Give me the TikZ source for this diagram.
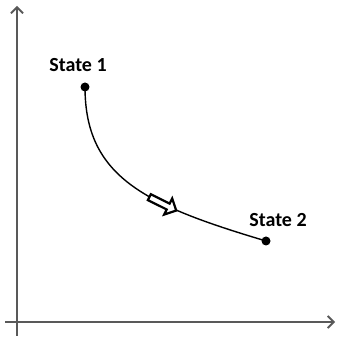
\documentclass[tikz,border=0pt]{standalone}
\usepackage{fontspec}
\setmainfont{Carlito}
\usetikzlibrary{arrows.meta,shapes.arrows}

\begin{document}
\begin{tikzpicture}[x=1pt,y=1pt,
  axis/.style={draw=gray!70!black,line width=2.4pt,-{Straight Barb[length=6pt,width=12pt,line width=1.8pt]}},
  statedot/.style={circle,fill=black,inner sep=0pt,minimum size=9pt},
  statelbl/.style={font=\fontsize{20}{24}\selectfont\bfseries,inner sep=0pt},
  flowarrow/.style={single arrow,draw=black,line width=2.2pt,fill=white,
    minimum height=30pt,minimum width=18pt,single arrow head extend=4pt,
    single arrow head indent=0pt,inner sep=1.2pt,sloped}]
  \useasboundingbox (0,0) rectangle (340,337);
  % Axes
  \coordinate (yfoot) at (17,1);
  \coordinate (ytop) at (17,331);
  \coordinate (xfoot) at (5,15);
  \coordinate (xend) at (335,15);
  \draw[axis] (yfoot) -- (ytop);
  \draw[axis] (xfoot) -- (xend);
  % States
  \node[statedot] (s1) at (85,250) {};
  \node[statedot] (s2) at (266,96) {};
  \node[statelbl] (l1) at (78,272) {State 1};
  \node[statelbl] (l2) at (278,117) {State 2};
  % Process path
  \draw[line width=1.4pt] (s1.center) .. controls (85,160) and (145,132) .. (s2.center)
    node[flowarrow,pos=0.65] (dir) {};
\end{tikzpicture}
\end{document}
